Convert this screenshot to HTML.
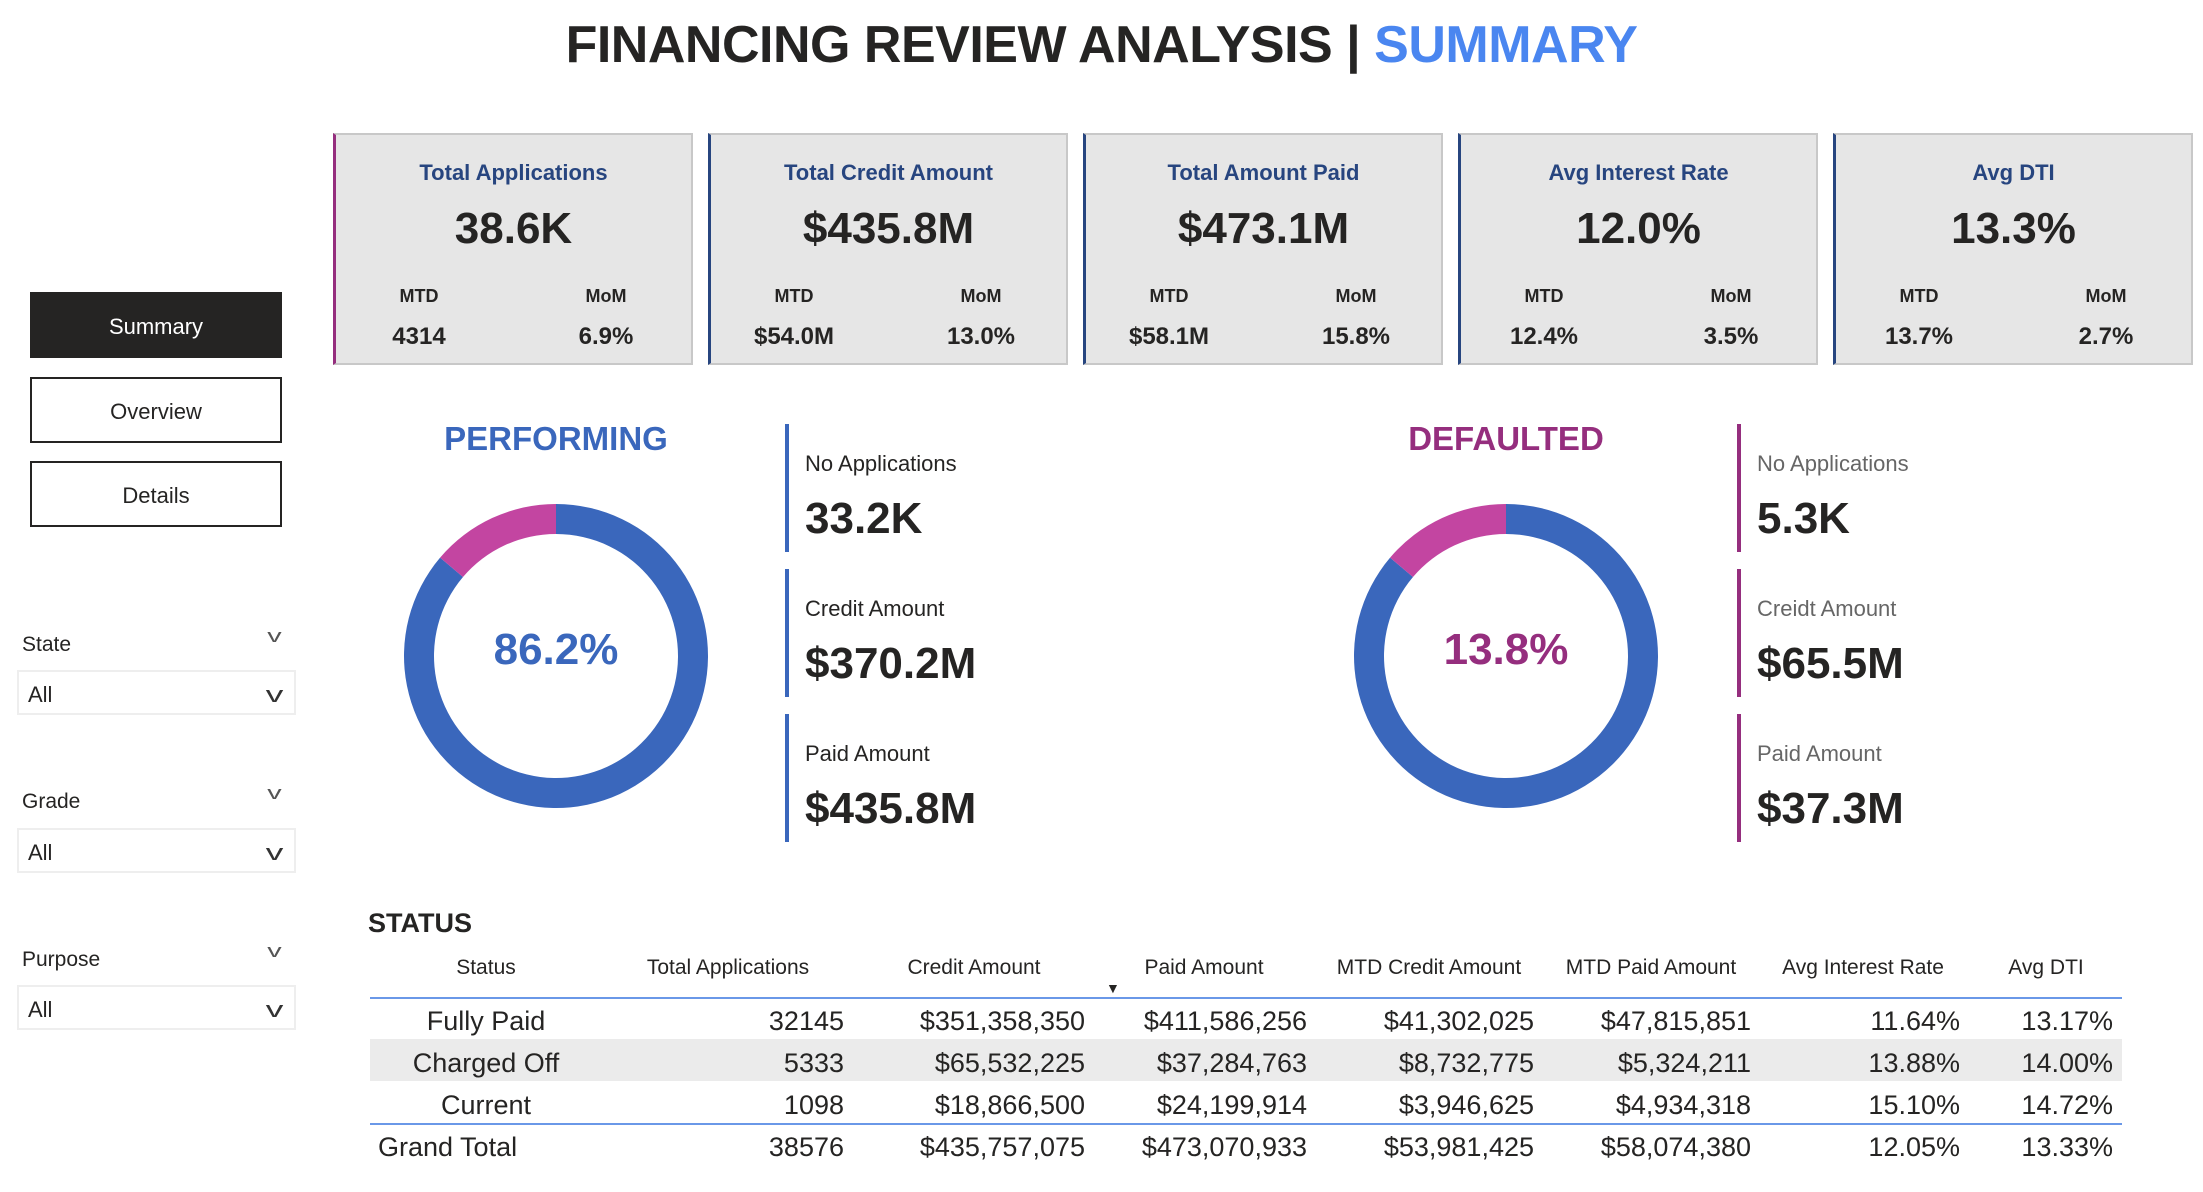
<!DOCTYPE html>
<html><head><meta charset="utf-8"><style>
body{margin:0;width:2203px;height:1192px;background:#fff;position:relative;overflow:hidden;font-family:"Liberation Sans",sans-serif;color:#252423}
.a{position:absolute}
.card{position:absolute;top:133px;width:360px;height:232px;background:#e6e6e6;border:2px solid #c8c8c8;border-left:3px solid #27457f;box-sizing:border-box}
.ct{position:absolute;top:25px;left:0;right:0;text-align:center;color:#27457f;font-weight:bold;font-size:22px}
.cv{position:absolute;top:69px;left:0;right:0;text-align:center;font-weight:bold;font-size:44px;color:#252423}
.cl{position:absolute;top:151px;width:120px;text-align:center;font-weight:bold;font-size:18px}
.cm{position:absolute;top:188px;width:120px;text-align:center;font-weight:bold;font-size:24px}
.btn{position:absolute;left:30px;width:252px;height:66px;box-sizing:border-box;border:2px solid #252423;text-align:center;line-height:66px;font-size:22px}
.sl{position:absolute;left:22px;font-size:21px}
.chev{position:absolute;left:270px;font-size:18px;color:#555;transform:scaleX(1.6)}
.dd{position:absolute;left:17px;width:279px;height:45px;box-sizing:border-box;border:2px solid #eee;font-size:22px;line-height:46px;padding-left:9px}
.dd span{position:absolute;right:14px;top:0;transform:scaleX(1.6);color:#333}
.il{position:absolute;font-size:22px;color:#252423}
.iv{position:absolute;font-size:44px;font-weight:bold}
</style></head><body>
<div class="a" style="left:0;width:2203px;top:15px;text-align:center;font-size:52px;font-weight:bold;letter-spacing:-0.5px;color:#252423">FINANCING REVIEW ANALYSIS | <span style="color:#4a86f0">SUMMARY</span></div>

<div class="btn" style="top:292px;background:#252423;color:#fff">Summary</div>
<div class="btn" style="top:377px">Overview</div>
<div class="btn" style="top:461px">Details</div>

<div class="sl" style="top:633px">State</div><div class="chev" style="top:626px">v</div>
<div class="dd" style="top:670px">All<span>v</span></div>
<div class="sl" style="top:790px">Grade</div><div class="chev" style="top:783px">v</div>
<div class="dd" style="top:828px">All<span>v</span></div>
<div class="sl" style="top:948px">Purpose</div><div class="chev" style="top:941px">v</div>
<div class="dd" style="top:985px">All<span>v</span></div>

<div id="cards"></div>

<div class="a" style="left:406px;width:300px;top:420px;text-align:center;font-size:33px;font-weight:bold;color:#3a67bc">PERFORMING</div>
<div class="a" style="left:1356px;width:300px;top:420px;text-align:center;font-size:33px;font-weight:bold;color:#952e7e">DEFAULTED</div>
<svg id="donuts" class="a" style="left:0;top:0" width="2203" height="1192"></svg>

<div id="info"></div>

<div class="a" style="left:368px;top:908px;font-size:27px;font-weight:bold">STATUS</div>
<div class="a" style="left:1106px;top:980px;font-size:14px">▼</div>
<div id="tbl"></div>

<script>
const cardTitles=["Total Applications","Total Credit Amount","Total Amount Paid","Avg Interest Rate","Avg DTI"];
const cardValues=["38.6K","$435.8M","$473.1M","12.0%","13.3%"];
const cardMTD=["4314","$54.0M","$58.1M","12.4%","13.7%"];
const cardMoM=["6.9%","13.0%","15.8%","3.5%","2.7%"];
let h='';
cardTitles.forEach((t,i)=>{
  const x=333+i*375;
  h+=`<div class="card" style="left:${x}px;${i==0?'border-left-color:#952e7e':''}">
  <div class="ct">${t}</div><div class="cv">${cardValues[i]}</div>
  <div class="cl" style="left:23px">MTD</div><div class="cl" style="left:210px">MoM</div>
  <div class="cm" style="left:23px">${cardMTD[i]}</div><div class="cm" style="left:210px">${cardMoM[i]}</div></div>`;
});
document.getElementById('cards').innerHTML=h;

const donutLabels=["PERFORMING","DEFAULTED"];
const donutShare=[86.2,13.8];
const donutCenters=[556,1506];
const svg=document.getElementById('donuts');
const NS='http://www.w3.org/2000/svg';
function arc(cx,cy,R,r,a0,a1){
  const p=(a,rr)=>[cx+rr*Math.sin(a),cy-rr*Math.cos(a)];
  const large=(a1-a0)>Math.PI?1:0;
  const [x0,y0]=p(a0,R),[x1,y1]=p(a1,R),[x2,y2]=p(a1,r),[x3,y3]=p(a0,r);
  return `M${x0},${y0}A${R},${R} 0 ${large} 1 ${x1},${y1}L${x2},${y2}A${r},${r} 0 ${large} 0 ${x3},${y3}Z`;
}
donutShare.forEach((v,i)=>{
  const cx=donutCenters[i],cy=656,R=152,r=122;
  const perf=i==0?v:100-v;
  const a=perf/100*2*Math.PI;
  const p1=document.createElementNS(NS,'path');
  p1.setAttribute('d',arc(cx,cy,R,r,0,a));p1.setAttribute('fill','#3a67bc');
  
  
  svg.appendChild(p1);
  const p2=document.createElementNS(NS,'path');
  p2.setAttribute('d',arc(cx,cy,R,r,a,2*Math.PI));p2.setAttribute('fill','#c345a1');
  
  
  svg.appendChild(p2);
  const t=document.createElementNS(NS,'text');
  t.setAttribute('x',cx);t.setAttribute('y',cy+8);t.setAttribute('text-anchor','middle');
  t.setAttribute('font-family','Liberation Sans, sans-serif');t.setAttribute('font-size','44');
  t.setAttribute('font-weight','bold');
  t.setAttribute('fill',i==0?'#3a67bc':'#952e7e');
  
  
  t.textContent=v.toFixed(1)+'%';svg.appendChild(t);
});

const infoLabels=[["No Applications","Credit Amount","Paid Amount"],["No Applications","Creidt Amount","Paid Amount"]];
const infoValues=[["33.2K","$370.2M","$435.8M"],["5.3K","$65.5M","$37.3M"]];
const infoX=[785,1737],infoColors=['#3a67bc','#952e7e'];
let ih='';
infoLabels.forEach((L,i)=>{L.forEach((l,j)=>{
  const y=424+j*145;
  ih+=`<div class="a" style="left:${infoX[i]}px;top:${y}px;width:4px;height:128px;background:${infoColors[i]}"></div>
  <div class="il" style="left:${infoX[i]+20}px;top:${y+27}px;${i==1?'color:#666':''}">${l}</div>
  <div class="iv" style="left:${infoX[i]+20}px;top:${y+70}px">${infoValues[i][j]}</div>`;
});});
document.getElementById('info').innerHTML=ih;

const headers=["Status","Total Applications","Credit Amount","Paid Amount","MTD Credit Amount","MTD Paid Amount","Avg Interest Rate","Avg DTI"];
const statuses=["Fully Paid","Charged Off","Current","Grand Total"];
const totalApps=["32145","5333","1098","38576"];
const creditAmt=["$351,358,350","$65,532,225","$18,866,500","$435,757,075"];
const paidAmt=["$411,586,256","$37,284,763","$24,199,914","$473,070,933"];
const mtdCredit=["$41,302,025","$8,732,775","$3,946,625","$53,981,425"];
const mtdPaid=["$47,815,851","$5,324,211","$4,934,318","$58,074,380"];
const avgInt=["11.64%","13.88%","15.10%","12.05%"];
const avgDti=["13.17%","14.00%","14.72%","13.33%"];
const hdrCx=[486,728,974,1204,1429,1651,1863,2046];
const colRight=[0,844,1085,1307,1534,1751,1960,2113];
let th='';
headers.forEach((t,i)=>{th+=`<div class="a" style="left:${hdrCx[i]-150}px;width:300px;top:956px;text-align:center;font-size:21px">${t}</div>`;});
th+=`<div class="a" style="left:370px;width:1752px;top:997px;height:2px;background:#6a98e8"></div>`;
th+=`<div class="a" style="left:370px;width:1752px;top:1039px;height:42px;background:#ebebeb"></div>`;
th+=`<div class="a" style="left:370px;width:1752px;top:1123px;height:2px;background:#6a98e8"></div>`;
const cols=[totalApps,creditAmt,paidAmt,mtdCredit,mtdPaid,avgInt,avgDti];
statuses.forEach((s,r)=>{
  const y=1006+r*42;
  th+=`<div class="a" style="${r==3?'left:378px;':'left:336px;width:300px;text-align:center;'}top:${y}px;font-size:27px">${s}</div>`;
  cols.forEach((c,k)=>{th+=`<div class="a" style="left:${colRight[k+1]-300}px;width:300px;text-align:right;top:${y}px;font-size:27px">${c[r]}</div>`;});
});
document.getElementById('tbl').innerHTML=th;
</script>
</body></html>
